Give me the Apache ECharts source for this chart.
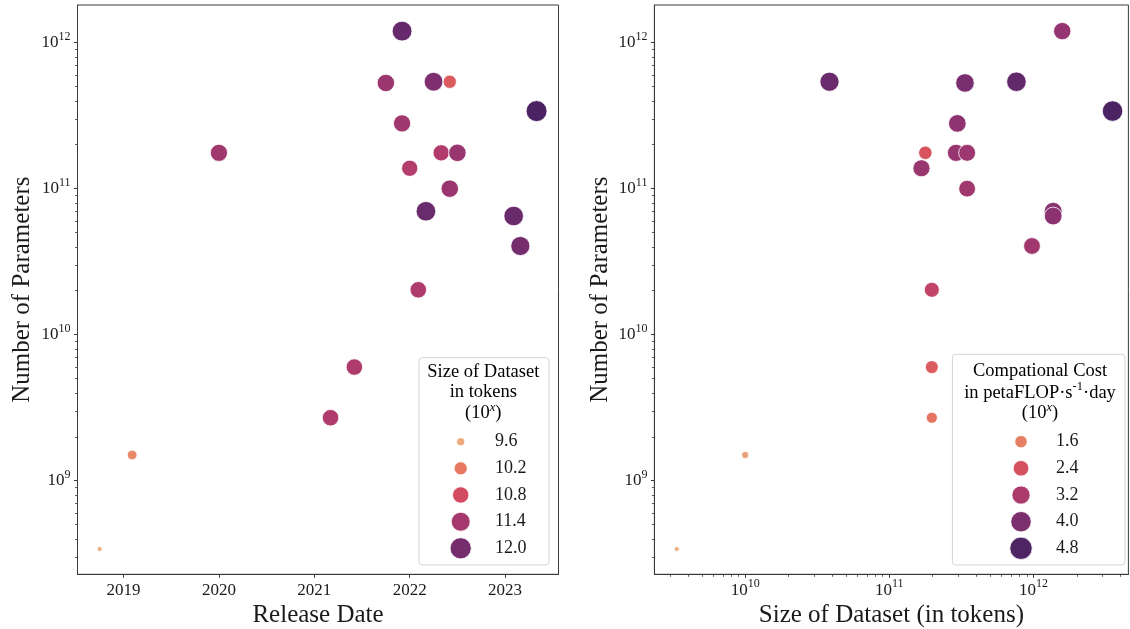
<!DOCTYPE html>
<html><head><meta charset="utf-8">
<script src="https://cdn.jsdelivr.net/npm/echarts@6/dist/echarts.min.js"></script>
<style>html,body{margin:0;padding:0;background:#fff}#c{width:1130px;height:629px}</style>
</head><body><div id="c"></div>
<script>
// ---- data ----
const releaseDate = [2018.75, 2019.09, 2020.0, 2021.17, 2021.42, 2021.75, 2021.92, 2021.92, 2022.0, 2022.09, 2022.17, 2022.25, 2022.33, 2022.42, 2022.42, 2022.5, 2023.09, 2023.16, 2023.33];
const parameters = [3.4e8, 1.5e9, 1.76e11, 2.7e9, 6.0e9, 5.3e11, 2.8e11, 1.2e12, 1.38e11, 2.03e10, 7.0e10, 5.4e11, 1.76e11, 5.4e11, 1.0e11, 1.76e11, 6.5e10, 4.05e10, 3.4e11];
const datasetLog = [9.525, 10.0, 11.463, 11.295, 11.295, 11.525, 11.472, 12.2, 11.223, 11.295, 12.137, 11.882, 11.25, 10.585, 11.54, 11.54, 12.137, 11.99, 12.549];
const computeLog = [0.8, 1.05, 3.55, 1.75, 2.2, 4.05, 3.7, 3.6, 3.5, 2.8, 3.8, 4.45, 2.35, 4.3, 3.4, 3.45, 3.75, 3.4, 4.85];

const yearTicks = [2019, 2020, 2021, 2022, 2023];
const paramTicks = [1e9, 1e10, 1e11, 1e12];
const datasetTicks = [1e10, 1e11, 1e12];
const legendDataset = [9.6, 10.2, 10.8, 11.4, 12.0];
const legendCompute = [1.6, 2.4, 3.2, 4.0, 4.8];

// ---- styling ----
const FONT = '"Liberation Serif", "DejaVu Serif", serif';
const TXT = '#1a1a1a';
const AX = '#3a3a3a';
const flare = ['#edb081', '#e98d6b', '#e3685c', '#d14a61', '#b13c6c', '#8f3371', '#6c2b6d', '#4b2362'];

function hexToRgb(h){return [parseInt(h.substr(1,2),16),parseInt(h.substr(3,2),16),parseInt(h.substr(5,2),16)];}
function colorAt(t){
  t = Math.max(0, Math.min(1, t));
  const p = t * (flare.length - 1), i = Math.min(Math.floor(p), flare.length - 2), f = p - i;
  const a = hexToRgb(flare[i]), b = hexToRgb(flare[i+1]);
  return 'rgb(' + a.map((v,k)=>Math.round(v + (b[k]-v)*f)).join(',') + ')';
}
const dsMin = Math.min(...datasetLog), dsMax = Math.max(...datasetLog);
const cpMin = Math.min(...computeLog), cpMax = Math.max(...computeLog);
// area-linear size scale (diameter in px)
function sizeScale(v, vmin, vmax, dmin, dmax){
  const t = (v - vmin) / (vmax - vmin);
  return Math.sqrt(dmin*dmin + t*(dmax*dmax - dmin*dmin));
}
const leftSize = v => sizeScale(v, dsMin, dsMax, 4, 20) + 1;
const rightSize = v => sizeScale(v, cpMin, cpMax, 4, 19.5) + 1;

function minorTicks(lo, hi){
  const out = [];
  for (let e = Math.floor(lo); e <= Math.ceil(hi); e++)
    for (let m = 2; m <= 9; m++){ const v = m * Math.pow(10, e); if (Math.log10(v) >= lo && Math.log10(v) <= hi) out.push(v); }
  return out;
}
const sciFmt = v => '{b|10}{s|' + Math.round(Math.log10(v)) + '}';
const sciRich = { b:{fontSize:17, lineHeight:24, fontFamily:FONT, color:TXT}, s:{fontSize:12, lineHeight:12, verticalAlign:'top', fontFamily:FONT, color:TXT} };

const Y_LO = 8.359, Y_HI = 12.258;
const XR_LO = 9.370, XR_HI = 12.659;

const grids = [
  {left:77.5, top:5, width:481, height:569.3, show:true, borderColor:AX, borderWidth:1, containLabel:false, outerBoundsMode:'none'},
  {left:654.4, top:5, width:474, height:569.3, show:true, borderColor:AX, borderWidth:1, containLabel:false, outerBoundsMode:'none'}
];
const nameStyle = {fontSize:25, fontFamily:FONT, color:TXT};

const xAxes = [
  {type:'value', gridIndex:0, position:'bottom', min:2018.517, max:2023.560, name:'Release Date', nameLocation:'middle', nameGap:29, nameMoveOverlap:false, nameTextStyle:nameStyle,
   axisLine:{show:true, lineStyle:{color:AX, width:1}}, splitLine:{show:false},
   axisTick:{show:true, customValues:yearTicks, length:3.5, lineStyle:{color:AX}},
   axisLabel:{customValues:yearTicks, fontSize:17, lineHeight:24, margin:4, fontFamily:FONT, color:TXT, formatter:v=>String(Math.round(v))}},
  {type:'log', logBase:10, gridIndex:1, position:'bottom', min:Math.pow(10,XR_LO), max:Math.pow(10,XR_HI), name:'Size of Dataset (in tokens)', nameLocation:'middle', nameGap:29, nameMoveOverlap:false, nameTextStyle:nameStyle,
   axisLine:{show:true, lineStyle:{color:AX, width:1}}, splitLine:{show:false}, minorTick:{show:false},
   axisTick:{show:true, customValues:datasetTicks, length:3.5, lineStyle:{color:AX}},
   axisLabel:{customValues:datasetTicks, margin:4, formatter:sciFmt, rich:sciRich}},
  {type:'log', logBase:10, gridIndex:1, position:'bottom', min:Math.pow(10,XR_LO), max:Math.pow(10,XR_HI),
   axisLine:{show:false}, splitLine:{show:false}, axisLabel:{show:false},
   axisTick:{show:true, customValues:minorTicks(XR_LO, XR_HI), length:2.5, lineStyle:{color:AX, width:0.8}}}
];
function yMain(grid, gap){
  return {type:'log', logBase:10, gridIndex:grid, position:'left', min:Math.pow(10,Y_LO), max:Math.pow(10,Y_HI), name:'Number of Parameters', nameLocation:'middle', nameGap:gap, nameMoveOverlap:false, nameTextStyle:nameStyle,
   axisLine:{show:true, lineStyle:{color:AX, width:1}}, splitLine:{show:false}, minorTick:{show:false},
   axisTick:{show:true, customValues:paramTicks, length:3.5, lineStyle:{color:AX}},
   axisLabel:{customValues:paramTicks, margin:7, formatter:sciFmt, rich:sciRich}};
}
function yMinor(grid){
  return {type:'log', logBase:10, gridIndex:grid, position:'left', min:Math.pow(10,Y_LO), max:Math.pow(10,Y_HI),
   axisLine:{show:false}, splitLine:{show:false}, axisLabel:{show:false},
   axisTick:{show:true, customValues:minorTicks(Y_LO, Y_HI), length:2.5, lineStyle:{color:AX, width:0.8}}};
}
const yAxes = [yMain(0, 43), yMinor(0), yMain(1, 41), yMinor(1)];

const series = [
  {type:'scatter', xAxisIndex:0, yAxisIndex:0, silent:true,
   data: releaseDate.map((d,i)=>[d, parameters[i], datasetLog[i]]),
   symbolSize: v => leftSize(v[2]),
   itemStyle:{opacity:1, borderColor:'#fff', borderWidth:0.8}},
  {type:'scatter', xAxisIndex:1, yAxisIndex:2, silent:true,
   data: datasetLog.map((t,i)=>[Math.pow(10,t), parameters[i], computeLog[i]]),
   symbolSize: v => rightSize(v[2]),
   itemStyle:{opacity:1, borderColor:'#fff', borderWidth:0.8}}
];
const visualMap = [
  {type:'continuous', show:false, seriesIndex:0, dimension:2, min:dsMin, max:dsMax, inRange:{color:flare}},
  {type:'continuous', show:false, seriesIndex:1, dimension:2, min:cpMin, max:cpMax, inRange:{color:flare}}
];

// ---- legends (graphic) ----
const legRich = {
  n:{fontSize:18.5, lineHeight:24, fontFamily:FONT, color:TXT},
  s:{fontSize:12.5, lineHeight:12, verticalAlign:'top', fontFamily:FONT, color:TXT},
  i:{fontSize:12.5, lineHeight:12, verticalAlign:'top', fontFamily:FONT, fontStyle:'italic', color:TXT}
};
function legend(box, titles, titleX, titleYs, values, vmin, vmax, sizeFn, cx, lx, rowYs){
  const els = [{type:'rect', shape:{x:box[0], y:box[1], width:box[2], height:box[3], r:3}, style:{fill:'rgba(255,255,255,0.85)', stroke:'#d4d4d4', lineWidth:1}, z:100}];
  titles.forEach((t,k)=>els.push({type:'text', x:titleX, y:titleYs[k], z:101, style:{text:t, rich:legRich, align:'center', verticalAlign:'middle'}}));
  values.forEach((v,k)=>{
    els.push({type:'circle', shape:{cx:cx, cy:rowYs[k], r:(sizeFn(v)+2)/2}, style:{fill:colorAt((v-vmin)/(vmax-vmin)), stroke:'#fff', lineWidth:0.8}, z:101});
    els.push({type:'text', x:lx, y:rowYs[k], z:101, style:{text:v.toFixed(1), fontSize:18, fontFamily:FONT, fill:TXT, align:'left', verticalAlign:'middle'}});
  });
  return els;
}
const rows = [441.7, 468.3, 495, 521.7, 548.3];
const graphic = [].concat(
  legend([419, 357.7, 130, 207.3], ['{n|Size of Dataset}', '{n|in tokens}', '{n|(10}{i|x}{n|)}'], 483.3, [371.7, 392.5, 413.3],
         legendDataset, dsMin, dsMax, leftSize, 460.7, 495, rows),
  legend([952.4, 354.3, 172.6, 210.7], ['{n|Compational Cost}', '{n|in petaFLOP·s}{s|-1}{n|·day}', '{n|(10}{i|x}{n|)}'], 1040, [370.7, 392.7, 413.3],
         legendCompute, cpMin, cpMax, rightSize, 1021, 1056, rows)
);

const chart = echarts.init(document.getElementById('c'), null, {renderer:'canvas'});
chart.setOption({
  backgroundColor:'#fff', animation:false,
  textStyle:{fontFamily:FONT},
  grid:grids, xAxis:xAxes, yAxis:yAxes, series:series, visualMap:visualMap, graphic:graphic
});
</script></body></html>
